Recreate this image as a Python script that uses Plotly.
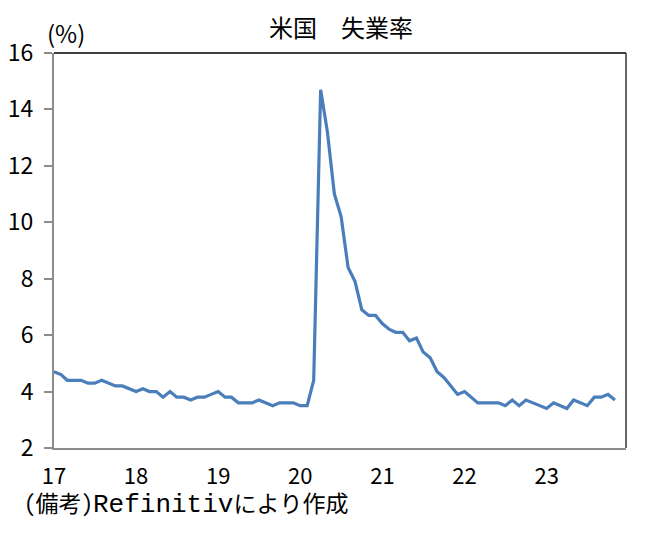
import plotly.graph_objects as go
import pandas as pd

# 米国 失業率 (%), 月次 2017年1月〜2023年11月
rate_2017 = [4.7, 4.6, 4.4, 4.4, 4.4, 4.3, 4.3, 4.4, 4.3, 4.2, 4.2, 4.1]
rate_2018 = [4.0, 4.1, 4.0, 4.0, 3.8, 4.0, 3.8, 3.8, 3.7, 3.8, 3.8, 3.9]
rate_2019 = [4.0, 3.8, 3.8, 3.6, 3.6, 3.6, 3.7, 3.6, 3.5, 3.6, 3.6, 3.6]
rate_2020 = [3.5, 3.5, 4.4, 14.7, 13.2, 11.0, 10.2, 8.4, 7.9, 6.9, 6.7, 6.7]
rate_2021 = [6.4, 6.2, 6.1, 6.1, 5.8, 5.9, 5.4, 5.2, 4.7, 4.5, 4.2, 3.9]
rate_2022 = [4.0, 3.8, 3.6, 3.6, 3.6, 3.6, 3.5, 3.7, 3.5, 3.7, 3.6, 3.5]
rate_2023 = [3.4, 3.6, 3.5, 3.4, 3.7, 3.6, 3.5, 3.8, 3.8, 3.9, 3.7]

rates = rate_2017 + rate_2018 + rate_2019 + rate_2020 + rate_2021 + rate_2022 + rate_2023
months = pd.date_range('2017-01-01', periods=len(rates), freq='MS')

year_ticks = pd.to_datetime(['2017-01-01', '2018-01-01', '2019-01-01', '2020-01-01',
                             '2021-01-01', '2022-01-01', '2023-01-01'])
year_labels = ['17', '18', '19', '20', '21', '22', '23']

font = 'Noto Sans Mono CJK JP, Liberation Mono, Noto Sans CJK JP'
num_font = 'Noto Sans CJK JP'

fig = go.Figure()
fig.add_trace(go.Scatter(x=months, y=rates, mode='lines',
                         line=dict(color='#4a7ebb', width=3.2)))

fig.update_layout(
    width=648, height=550,
    margin=dict(l=46, r=30, t=45, b=110),
    plot_bgcolor='white', paper_bgcolor='white',
    showlegend=False,
    font=dict(family=font, color='black', size=20),
)

fig.update_xaxes(
    range=[pd.Timestamp('2017-01-01'), pd.Timestamp('2023-12-20')],
    tickvals=year_ticks, ticktext=year_labels,
    showgrid=False, zeroline=False, automargin=False,
    showline=True, linecolor='#8c8c8c', linewidth=2,
    ticks='', tickfont=dict(size=22, family=num_font), ticklabelstandoff=8,
)
fig.update_yaxes(
    range=[2, 16], dtick=2,
    showgrid=False, zeroline=False, automargin=False,
    showline=True, linecolor='#8c8c8c', linewidth=2,
    ticks='outside', ticklen=8, tickwidth=2, tickcolor='#8c8c8c',
    tickfont=dict(size=23, family=num_font), ticklabelstandoff=6,
)

# top and right frame
fig.add_shape(type='line', xref='paper', yref='paper', x0=0, x1=1, y0=1, y1=1,
              line=dict(color='black', width=1.5))
fig.add_shape(type='line', xref='paper', yref='paper', x0=1, x1=1, y0=0, y1=1,
              line=dict(color='#333333', width=1.5))

fig.add_annotation(text='米国　失業率', xref='paper', yref='paper', x=0.502, y=1.067,
                   xanchor='center', yanchor='middle', showarrow=False,
                   font=dict(size=24))
fig.add_annotation(text='(%)', xref='paper', yref='paper', x=0.021, y=1.053,
                   xanchor='center', yanchor='middle', showarrow=False,
                   font=dict(size=24, family=num_font))
fig.add_annotation(
    text='(備考)<span style="font-family:Liberation Mono;font-size:26px">Refinitiv</span>により作成',
    xref='paper', yref='paper', x=-0.056, y=-0.137, xanchor='left', yanchor='middle',
    showarrow=False, font=dict(size=23))

fig.write_html('out.html')
